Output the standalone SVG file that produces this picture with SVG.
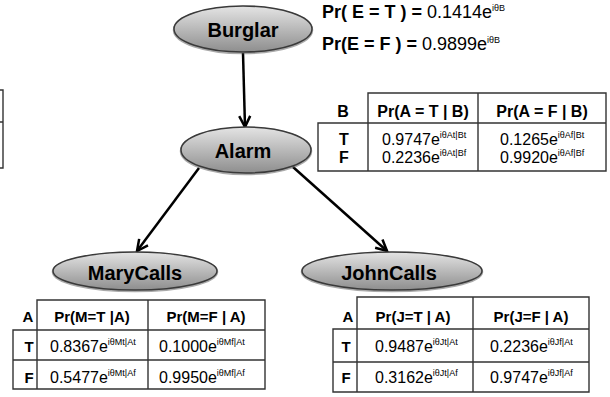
<svg xmlns="http://www.w3.org/2000/svg" width="610" height="397" viewBox="0 0 610 397">
  <defs>
    <linearGradient id="nodeFill" x1="0" y1="0" x2="0" y2="1">
      <stop offset="0" stop-color="#e4e4e4"/>
      <stop offset="1" stop-color="#8e8e8e"/>
    </linearGradient>
    <marker id="arrow" markerUnits="userSpaceOnUse" markerWidth="16" markerHeight="16" refX="13" refY="7" orient="auto">
      <path d="M2,1.5 L13,7 L2,12.5" fill="none" stroke="#000" stroke-width="2.5" stroke-linejoin="miter"/>
    </marker>
  </defs>
  <style>
    text { font-family: "Liberation Sans", Arial, sans-serif; fill: #000; }
    .node ellipse.body { fill: url(#nodeFill); stroke: #3a3a3a; stroke-width: 1.5; }
    .node ellipse.shade { fill: none; stroke: #555; stroke-width: 2.5; opacity: 0.5; }
    .label { font-size: 20px; font-weight: bold; text-anchor: middle; }
    .edge { stroke: #000; stroke-width: 2.5; fill: none; marker-end: url(#arrow); }
    .grid { stroke: #333; stroke-width: 1.4; fill: none; }
    .hd { font-size: 15px; font-weight: bold; text-anchor: middle; }
    .hd16 { font-size: 16px; font-weight: bold; text-anchor: middle; }
    .val { font-size: 16px; }
    .sup { font-size: 9px; }
    .prior { font-size: 18px; }
  </style>

  <!-- connectors -->
  <g id="edges">
    <line class="edge" x1="243" y1="53" x2="245" y2="127"/>
    <line class="edge" x1="199" y1="168" x2="137" y2="251"/>
    <line class="edge" x1="293" y1="167" x2="387" y2="251"/>
  </g>

  <!-- nodes -->
  <g id="burglar" class="node">
    <ellipse class="shade" cx="243" cy="30" rx="69" ry="23"/>
    <ellipse class="body" cx="243" cy="29" rx="69" ry="23"/>
    <text class="label" x="243" y="37">Burglar</text>
  </g>
  <g id="alarm" class="node">
    <ellipse class="shade" cx="246" cy="151" rx="65" ry="23"/>
    <ellipse class="body" cx="246" cy="150" rx="65" ry="23"/>
    <text class="label" x="243" y="158">Alarm</text>
  </g>
  <g id="marycalls" class="node">
    <ellipse class="shade" cx="135" cy="272" rx="82" ry="19"/>
    <ellipse class="body" cx="135" cy="271" rx="82" ry="19"/>
    <text class="label" x="135" y="280">MaryCalls</text>
  </g>
  <g id="johncalls" class="node">
    <ellipse class="shade" cx="392" cy="272" rx="90" ry="19"/>
    <ellipse class="body" cx="392" cy="271" rx="90" ry="19"/>
    <text class="label" x="389" y="280">JohnCalls</text>
  </g>

  <!-- prior of B -->
  <g id="prior-b">
    <text class="prior" x="322" y="18"><tspan font-weight="bold">Pr( E = T ) = </tspan>0.1414e<tspan class="sup" dy="-7">iθB</tspan></text>
    <text class="prior" x="322" y="50"><tspan font-weight="bold">Pr(E = F ) = </tspan>0.9899e<tspan class="sup" dy="-7">iθB</tspan></text>
  </g>

  <!-- partial table at the left edge -->
  <g id="table-left-edge" class="grid">
    <path d="M0,90 H3 V168 H0 M0,122 H3"/>
  </g>

  <!-- CPT of A given B -->
  <g id="table-alarm">
    <path class="grid" d="M368,171 V93 H606 V171 H318 V123 H606 M478,93 V171"/>
    <text class="hd16" x="343" y="117">B</text>
    <text class="hd16" x="423" y="117">Pr(A = T | B)</text>
    <text class="hd16" x="542" y="117">Pr(A = F | B)</text>
    <text class="hd16" x="344" y="145">T</text>
    <text class="hd16" x="344" y="163">F</text>
    <text class="val" x="382" y="145">0.9747e<tspan class="sup" dy="-7">iθAt|Bt</tspan></text>
    <text class="val" x="382" y="163">0.2236e<tspan class="sup" dy="-7">iθAt|Bf</tspan></text>
    <text class="val" x="500" y="145">0.1265e<tspan class="sup" dy="-7">iθAf|Bt</tspan></text>
    <text class="val" x="500" y="163">0.9920e<tspan class="sup" dy="-7">iθAf|Bf</tspan></text>
  </g>

  <!-- CPT of M given A -->
  <g id="table-mary">
    <path class="grid" d="M37,389 V300 H265 V389 H13 V330 H265 M13,360 H265 M148,300 V389"/>
    <text class="hd" x="28" y="322">A</text>
    <text class="hd" x="92" y="322">Pr(M=T |A)</text>
    <text class="hd" x="206" y="322">Pr(M=F | A)</text>
    <text class="hd" x="29" y="352">T</text>
    <text class="hd" x="29" y="383">F</text>
    <text class="val" x="50" y="352">0.8367e<tspan class="sup" dy="-7">iθMt|At</tspan></text>
    <text class="val" x="50" y="383">0.5477e<tspan class="sup" dy="-7">iθMt|Af</tspan></text>
    <text class="val" x="159" y="352">0.1000e<tspan class="sup" dy="-7">iθMf|At</tspan></text>
    <text class="val" x="159" y="383">0.9950e<tspan class="sup" dy="-7">iθMf|Af</tspan></text>
  </g>

  <!-- CPT of J given A -->
  <g id="table-john">
    <path class="grid" d="M357,392 V297 H589 V392 H333 V329 H589 M333,362 H589 M473,297 V392"/>
    <text class="hd" x="348" y="322">A</text>
    <text class="hd" x="413" y="322">Pr(J=T | A)</text>
    <text class="hd" x="531" y="322">Pr(J=F | A)</text>
    <text class="hd" x="346" y="352">T</text>
    <text class="hd" x="346" y="383">F</text>
    <text class="val" x="375" y="352">0.9487e<tspan class="sup" dy="-7">iθJt|At</tspan></text>
    <text class="val" x="375" y="383">0.3162e<tspan class="sup" dy="-7">iθJt|Af</tspan></text>
    <text class="val" x="490" y="352">0.2236e<tspan class="sup" dy="-7">iθJf|At</tspan></text>
    <text class="val" x="490" y="383">0.9747e<tspan class="sup" dy="-7">iθJf|Af</tspan></text>
  </g>
</svg>
